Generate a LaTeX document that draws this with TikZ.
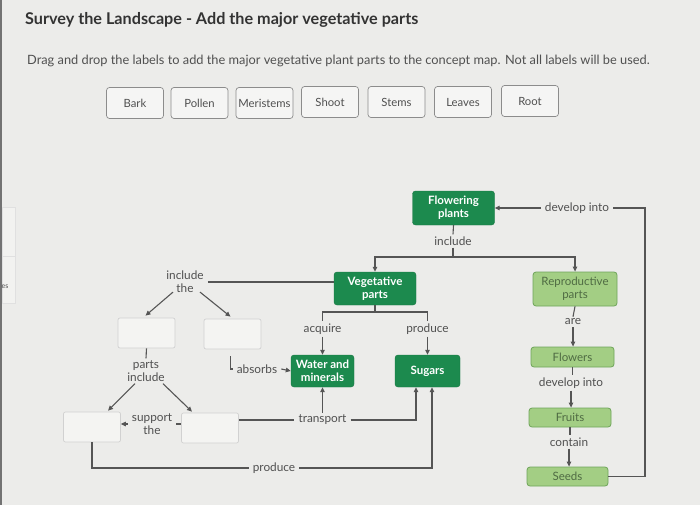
\documentclass[tikz,border=0pt]{standalone}
\usepackage{fontspec}
\setmainfont{Lato}
\usetikzlibrary{arrows.meta}
\definecolor{bg}{HTML}{ECECEA}
\definecolor{dgreen}{HTML}{1C8A4E}
\definecolor{lgreen}{HTML}{A3CE84}
\definecolor{lgborder}{HTML}{6FA55A}
\definecolor{lgtext}{HTML}{4F6B43}
\definecolor{linec}{HTML}{555555}
\definecolor{txt}{HTML}{505050}
\definecolor{ttl}{HTML}{333333}
\tikzset{
  conn/.style={draw=linec, line width=1.1pt},
  arr/.style={conn, -{Triangle[length=5pt,width=4.5pt]}},
  dgbox/.style={draw=dgreen!85!black, fill=dgreen, rounded corners=3pt, text=white,
    font=\fontsize{11.5}{13}\selectfont\bfseries, align=center, inner sep=0pt},
  lgbox/.style={draw=lgborder, line width=0.8pt, fill=lgreen, rounded corners=3pt, text=lgtext,
    font=\fontsize{11.5}{13}\selectfont, align=center, inner sep=0pt},
  emptybox/.style={draw=black!18, line width=0.7pt, fill=bg!60!white, rounded corners=2pt,
    minimum width=57pt, minimum height=30pt, inner sep=0pt},
  choice/.style={draw=black!45, line width=0.7pt, fill=bg!50!white, rounded corners=3pt,
    minimum width=57pt, minimum height=31pt, inner sep=0pt, text=txt,
    font=\fontsize{11.3}{13}\selectfont},
  lbl/.style={text=txt, font=\fontsize{11.8}{13}\selectfont, align=center, inner xsep=4pt, inner ysep=2pt},
}
\begin{document}
\begin{tikzpicture}[x=1pt,y=-1pt]
\useasboundingbox (0,0) rectangle (700,505);
\fill[bg] (0,0) rectangle (700,505);
% left edge panel
\fill[black!55] (0,0) rectangle (2,505);
\draw[black!12, line width=0.6pt, fill=bg!70!white] (2,207) rectangle (15,303);
\draw[black!12, line width=0.6pt] (2,256) -- (15,256);
\node[text=txt, font=\fontsize{7}{8}\selectfont, inner sep=0pt] (es) at (5,287) {es};

% title and instruction
\node[anchor=west, text=ttl, font=\fontsize{16.2}{19}\selectfont\bfseries, inner sep=0pt] (title) at (25,20) {Survey the Landscape - Add the major vegetative parts};
\node[anchor=west, text=txt, font=\fontsize{12.8}{15}\selectfont, inner sep=0pt] (instr) at (27,61) {Drag and drop the labels to add the major vegetative plant parts to the concept map. Not all labels will be used.};

% choice labels
\node[choice] (bark) at (135,103) {Bark};
\node[choice] (pollen) at (199.5,103) {Pollen};
\node[choice] (meri) at (264.5,103) {Meristems};
\node[choice] (shoot) at (330,102) {Shoot};
\node[choice] (stems) at (396.5,102) {Stems};
\node[choice] (leaves) at (463,102) {Leaves};
\node[choice] (root) at (530,101) {Root};

% green boxes
\node[dgbox, minimum width=82pt, minimum height=34pt] (FP) at (453.5,208) {Flowering\\plants};
\node[dgbox, minimum width=82pt, minimum height=33pt] (VP) at (375,288.5) {Vegetative\\parts};
\node[lgbox, minimum width=84pt, minimum height=34pt] (RP) at (575,289) {Reproductive\\parts};
\node[lgbox, minimum width=83pt, minimum height=20pt] (FL) at (572.5,357) {Flowers};
\node[lgbox, minimum width=82pt, minimum height=19pt] (FR) at (570,417.5) {Fruits};
\node[lgbox, minimum width=81pt, minimum height=19pt] (SD) at (567.5,476.5) {Seeds};
\node[dgbox, minimum width=63pt, minimum height=32pt] (WM) at (322.5,371) {Water and\\minerals};
\node[dgbox, minimum width=65pt, minimum height=32pt] (SG) at (427.5,371) {Sugars};

% empty drop boxes
\node[emptybox] (A) at (146.5,333) {};
\node[emptybox] (B) at (232.5,334) {};
\node[emptybox] (C) at (92,427) {};
\node[emptybox] (D) at (210,428) {};

% labels
\node[lbl] (incFP) at (453,241) {include};
\node[lbl] (dev1) at (577,208) {develop into};
\node[lbl] (are) at (573,322) {are};
\node[lbl] (dev2) at (571,383) {develop into};
\node[lbl] (cont) at (569,442) {contain};
\node[lbl] (incl) at (185,282) {include\\the};
\node[lbl] (partsinc) at (146,371) {parts\\include};
\node[lbl] (supp) at (152,424) {support\\the};
\node[lbl] (absorbs) at (257,369) {absorbs};
\node[lbl] (acq) at (322.5,329) {acquire};
\node[lbl] (prod1) at (427.5,329) {produce};
\node[lbl] (trans) at (322.5,420) {transport};
\node[lbl] (prod2) at (274,468) {produce};

% coordinates
\coordinate (bar) at (453,257);
\coordinate (vbar) at (375,312);
\coordinate (cR) at (645,208);

% connectors: top
\draw[conn] (FP.south) -- (incFP.north);
\draw[conn] (incFP.south) -- (bar);
\draw[arr] (bar) -| (VP.north);
\draw[arr] (bar) -| (RP.north);
\draw[conn] (SD.east) -| (cR) -- (dev1.east);
\draw[arr] (dev1.west) -- (FP.east);
% reproductive chain
\draw[conn] (RP.south) -- (are.north);
\draw[arr] (are.south) -- (are.south |- FL.north);
\draw[conn] (FL.south) -- (FL.south |- dev2.north);
\draw[arr] (dev2.south) -- (dev2.south |- FR.north);
\draw[conn] (FR.south) -- (FR.south |- cont.north);
\draw[arr] (cont.south) -- (cont.south |- SD.north);
% vegetative
\draw[conn] (VP.south) -- (vbar);
\draw[conn] (vbar) -| (acq.north);
\draw[conn] (vbar) -| (prod1.north);
\draw[arr] (acq.south) -- (WM.north);
\draw[arr] (prod1.south) -- (SG.north);
\draw[conn] (incl.east) -- (incl.east -| VP.west);
\draw[arr] ([xshift=-12pt,yshift=3pt]incl.south) -- ([xshift=-1pt,yshift=2pt]A.north);
\draw[arr] ([xshift=15pt,yshift=3pt]incl.south) -- ([xshift=-2pt,yshift=2pt]B.north);
\draw[conn] (A.south) -- (partsinc.north);
\draw[arr] ([xshift=-11pt,yshift=0pt]partsinc.south) -- ([xshift=16pt,yshift=1pt]C.north);
\draw[arr] ([xshift=17pt,yshift=0pt]partsinc.south) -- ([xshift=-18pt,yshift=1pt]D.north);
\draw[conn] (supp.east) -- (supp.east -| D.west);
\draw[arr] (supp.west) -- (supp.west -| C.east);
\draw[conn] ([xshift=-2pt,yshift=-7pt]B.south) |- (absorbs.west);
\draw[arr] (absorbs.east) -- (WM.west);
\draw[conn] (trans.west -| D.east) -- (trans.west);
\draw[arr] (trans.north) -- (WM.south);
\draw[arr] (trans.east) -| ([xshift=-11.5pt]SG.south);
\draw[conn] (C.south) |- (prod2.west);
\draw[arr] (prod2.east) -| ([xshift=4.5pt]SG.south);
\end{tikzpicture}
\end{document}
